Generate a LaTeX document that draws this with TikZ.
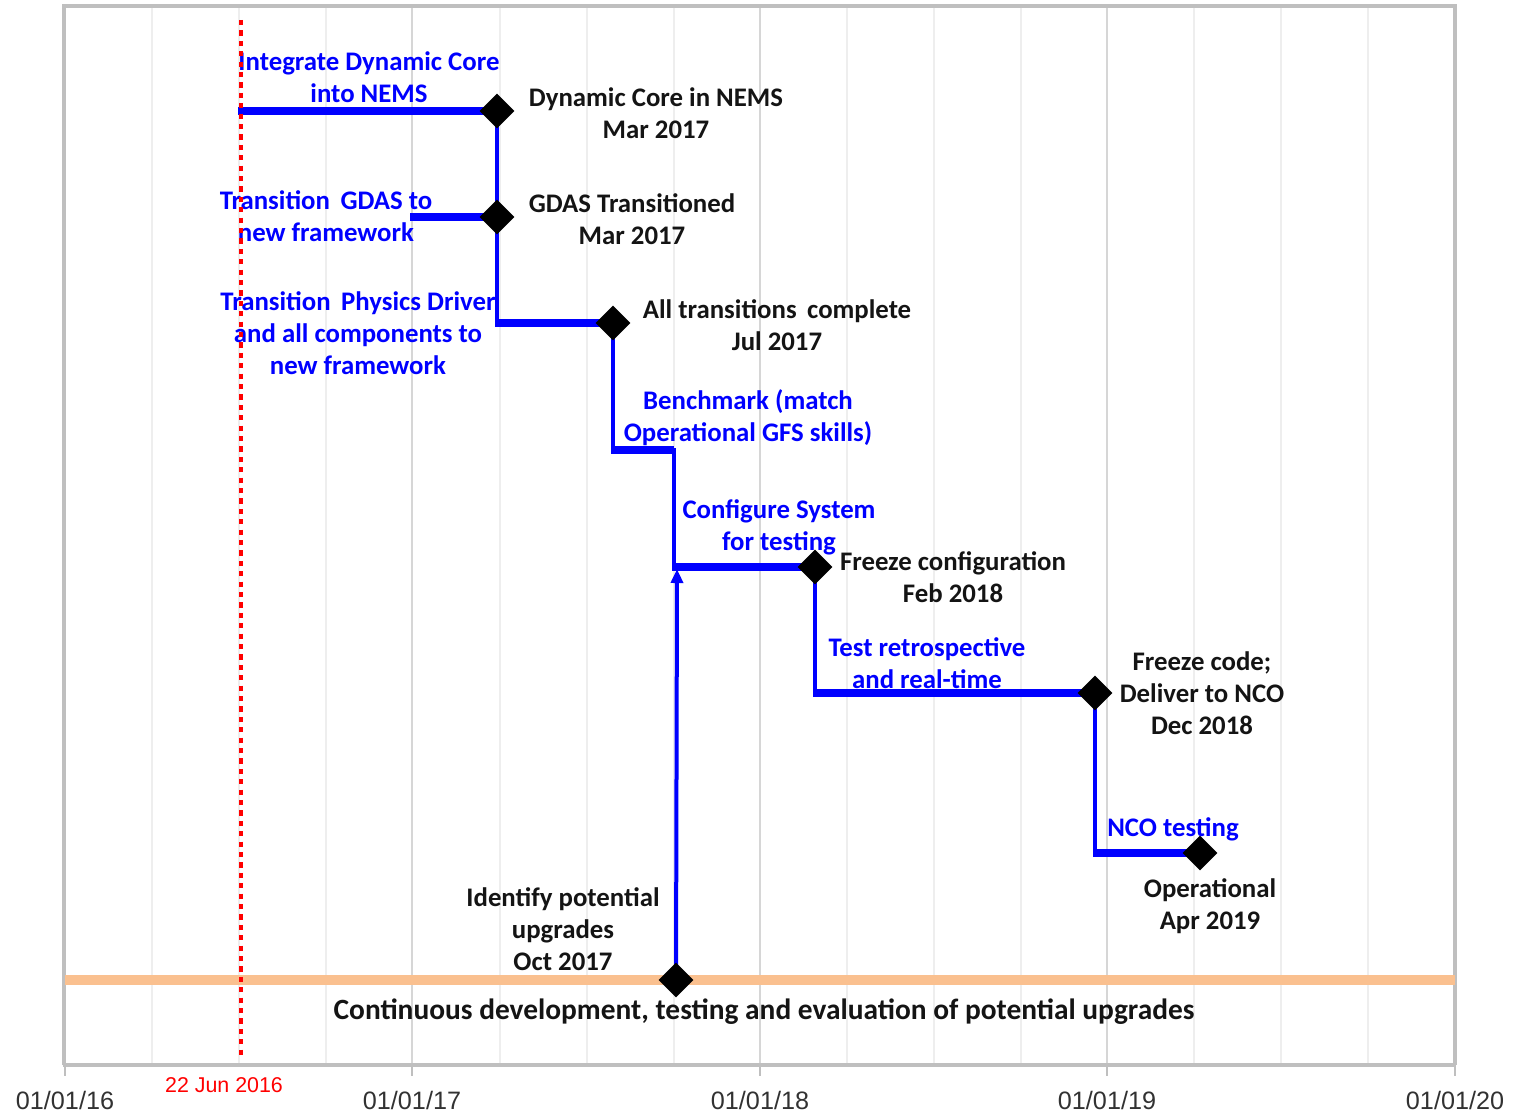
\documentclass[tikz,border=0pt]{standalone}
\usepackage{fontspec}
\setmainfont{Carlito}
\newfontfamily\arialfont{Liberation Sans}
\usetikzlibrary{arrows.meta,shapes.geometric,backgrounds}
\definecolor{pblue}{RGB}{0,0,255}
\definecolor{gframe}{RGB}{191,191,191}
\definecolor{gmajor}{RGB}{214,214,214}
\definecolor{gminor}{RGB}{238,238,238}
\definecolor{band}{RGB}{250,192,143}
\definecolor{txt}{RGB}{20,20,20}
\definecolor{axtxt}{RGB}{50,50,50}
\begin{document}
\begin{tikzpicture}[x=0.5pt,y=-0.5pt,
  ms/.style={diamond,fill=black,draw=none,inner sep=0pt,minimum width=17.5pt,minimum height=17.5pt},
  bar/.style={draw=pblue,line width=4pt},
  link/.style={draw=pblue,line width=2pt},
  lab/.style={font=\bfseries\fontsize{13.4}{16}\selectfont,align=center,inner sep=0pt,text=txt},
  blab/.style={lab,text=pblue},
  axlab/.style={font=\arialfont\fontsize{12.6}{15}\selectfont,text=axtxt,inner sep=0pt},
  major/.style={draw=gmajor,line width=1pt},
  minor/.style={draw=gminor,line width=0.6pt}]
\useasboundingbox (0,0) rectangle (1513,1113);
% milestones
\node[ms] (d1) at (497,111) {};
\node[ms] (d2) at (497,217) {};
\node[ms] (d3) at (613,323) {};
\node[ms] (d4) at (815,567) {};
\node[ms] (d5) at (1095,693) {};
\node[ms] (d6) at (1200,853) {};
\node[ms] (d7) at (676,980) {};
% free ends
\coordinate (s1) at (238,111);
\coordinate (s2) at (410,217);
\coordinate (b4l) at (613,450);
\coordinate (b4r) at (674,450);
\coordinate (ar) at (677,569);
\begin{scope}[on background layer]
  % grid
  \foreach \x in {152,239,326,500,587,674,847,934,1021,1194,1281,1368}
    \draw[minor] (\x,8) -- (\x,1063);
  \foreach \x in {412,760,1107}
    \draw[major] (\x,8) -- (\x,1063);
  % frame
  \draw[draw=gframe,line width=2pt] (64,1065) -- (64,6) -- (1455,6) -- (1455,1065);
  \draw[draw=gframe,line width=1.6pt] (63,1065) -- (1456,1065);
  \foreach \x in {65,412,760,1107,1455}
    \draw[draw=gframe,line width=1pt] (\x,1065) -- (\x,1076);
  % continuous band
  \draw[draw=band,line width=5pt] (65,980) -- (1455,980);
  % bars and links
  \draw[bar] (s1) -- (d1.center);
  \draw[link] (d1.center) -- (d2.center);
  \draw[bar] (s2) -- (d2.center);
  \draw[link] (d2.center) -- (d2.center |- d3.center);
  \draw[bar] ([xshift=-1pt]d2.center |- d3.center) -- (d3.center);
  \draw[link] (d3.center) -- ([yshift=-1pt]b4l);
  \draw[bar] ([xshift=-1pt]b4l) -- (b4r);
  \draw[link] ([yshift=1pt]b4r) -- (b4r |- d4.center);
  \draw[bar] ([xshift=-1pt]b4r |- d4.center) -- (d4.center);
  \draw[link] (d4.center) -- (d4.center |- d5.center);
  \draw[bar] ([xshift=-1pt]d4.center |- d5.center) -- (d5.center);
  \draw[link] (d5.center) -- (d5.center |- d6.center);
  \draw[bar] ([xshift=-1pt]d5.center |- d6.center) -- (d6.center);
  \draw[link,-{Triangle[width=6pt,length=7pt]}] (d7.center) -- (ar);
\end{scope}
% labels
\node[blab] (t1) at (369,77) {Integrate Dynamic Core\\into NEMS};
\node[lab] (t2) at (656,113) {Dynamic Core in NEMS\\Mar 2017};
\node[blab] (t3) at (326,216) {Transition\, GDAS to\\new framework};
\node[lab] (t4) at (632,219) {GDAS Transitioned\\Mar 2017};
\node[blab] (t5) at (358,333) {Transition\, Physics Driver\\and all components to\\new framework};
\node[lab] (t6) at (777,325) {All transitions\, complete\\Jul 2017};
\node[blab] (t7) at (748,418) {Benchmark (match\\Operational GFS skills)};
\node[blab] (t8) at (779,527) {Configure System\\for testing};
\node[lab] (t9) at (953,577) {Freeze configuration\\Feb 2018};
\node[blab] (t10) at (927,663) {Test retrospective\\and real-time};
\node[lab] (t11) at (1202,693) {Freeze code;\\Deliver to NCO\\Dec 2018};
\node[blab] (t12) at (1173,829) {NCO testing};
\node[lab] (t13) at (1210,906) {Operational\\Apr 2019};
\node[lab] (t14) at (563,929) {Identify potential\\upgrades\\Oct 2017};
\node[lab,font=\bfseries\fontsize{14.7}{17}\selectfont] (t15) at (764,1012) {Continuous development, testing and evaluation of potential upgrades};
% axis
\node[axlab] (a16) at (65,1100) {01/01/16};
\node[axlab] (a17) at (412,1100) {01/01/17};
\node[axlab] (a18) at (760,1100) {01/01/18};
\node[axlab] (a19) at (1107,1100) {01/01/19};
\node[axlab] (a20) at (1455,1100) {01/01/20};
\node[axlab,text=red,font=\arialfont\fontsize{10.7}{13}\selectfont] (today) at (224,1085) {22 Jun 2016};
% today line
\coordinate (rt) at (241,20);
\coordinate (rb) at (241,1060);
\draw[red,line width=2.4pt,dash pattern=on 2.6pt off 2.6pt] (rt) -- (rb);
\end{tikzpicture}
\end{document}
